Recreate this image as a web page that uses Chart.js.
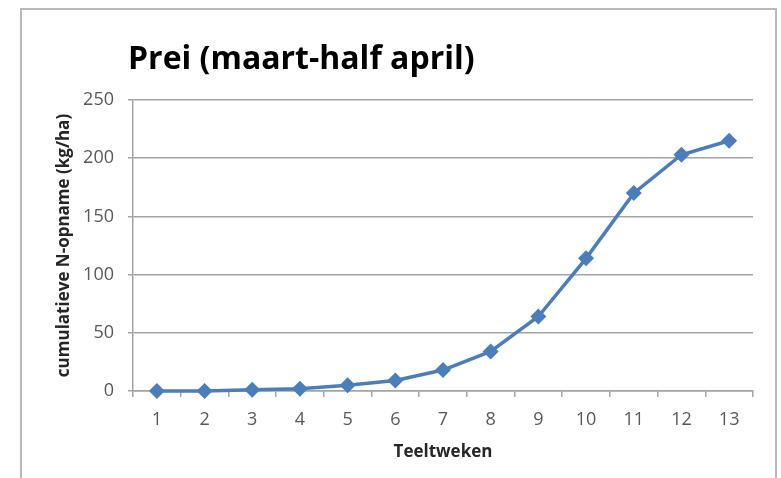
<!DOCTYPE html>
<html>
<head>
<meta charset="utf-8">
<script src="https://cdn.jsdelivr.net/npm/chart.js@4/dist/chart.umd.min.js"></script>
<style>
  body { margin: 0; background: #fff; overflow: hidden; }
  #frame { position: absolute; left: 20px; top: 8px; width: 753px; height: 500px; border: 2px solid #b9b9b9; }
  #chart { position: absolute; left: 0; top: 0; }
</style>
</head>
<body>
<div id="frame"></div>
<canvas id="chart" width="781" height="478"></canvas>
<script>
// weeks and cumulative N uptake
var weeks = ['1', '2', '3', '4', '5', '6', '7', '8', '9', '10', '11', '12', '13'];
var nUptake = [0, 0, 1, 2, 5, 9, 18, 34, 64, 114, 170, 203, 215];
var yTicks = [0, 50, 100, 150, 200, 250];

var titleText = 'Prei (maart-half april)';
var lineColor = '#4a7ebb';
var gridColor = '#a3a3a3';
var tickColor = '#595959';

// left aligned title, sits just left of the plot area like the excel one
var titlePlugin = {
  id: 'leftTitle',
  afterDraw: function(chart) {
    var ctx = chart.ctx;
    ctx.save();
    ctx.font = 'bold 32px "Open Sans"';
    ctx.fillStyle = '#000';
    ctx.textBaseline = 'alphabetic';
    ctx.fillText(titleText, chart.chartArea.left - 5, 69);
    ctx.restore();
  }
};

var ctx = document.getElementById('chart').getContext('2d');
var chart = new Chart(ctx, {
  type: 'line',
  data: {
    labels: weeks,
    datasets: [{
      data: nUptake,
      borderColor: lineColor,
      backgroundColor: lineColor,
      borderWidth: 3.5,
      tension: 0,
      pointStyle: 'rectRot',
      pointRadius: 8,
      pointHoverRadius: 8,
      pointBorderWidth: 0,
      pointBackgroundColor: lineColor,
      clip: false
    }]
  },
  options: {
    responsive: false,
    devicePixelRatio: 1,
    animation: false,
    layout: { padding: { left: 54, top: 100, right: 28, bottom: 16 } },
    plugins: {
      legend: { display: false },
      title: { display: false },
      tooltip: { enabled: false }
    },
    scales: {
      x: {
        offset: true,
        grid: {
          offset: true,
          drawOnChartArea: false,
          drawTicks: true,
          tickLength: 6,
          color: gridColor,
          lineWidth: 1.5
        },
        border: { color: gridColor, width: 1.5 },
        ticks: {
          color: tickColor,
          font: { family: 'Open Sans', size: 18 },
          padding: 12,
          maxRotation: 0
        },
        title: {
          display: true,
          text: 'Teeltweken',
          color: '#262626',
          font: { family: 'Open Sans', size: 17, weight: 'bold' },
          padding: 0
        },
        afterFit: function(scale) { scale.height = 71; }
      },
      y: {
        min: 0,
        max: 250,
        afterBuildTicks: function(scale) {
          scale.ticks = yTicks.map(function(v) { return { value: v }; });
        },
        grid: {
          color: gridColor,
          lineWidth: 1.5,
          drawTicks: true,
          tickLength: 5
        },
        border: { color: gridColor, width: 1.5 },
        ticks: {
          color: tickColor,
          font: { family: 'Open Sans', size: 18 },
          padding: 14
        },
        title: {
          display: true,
          text: 'cumulatieve N-opname (kg/ha)',
          color: '#262626',
          font: { family: 'Open Sans', size: 17, weight: 'bold' },
          padding: 0
        },
        afterFit: function(scale) { scale.width = 79; }
      }
    }
  },
  plugins: [titlePlugin]
});
</script>
</body>
</html>
